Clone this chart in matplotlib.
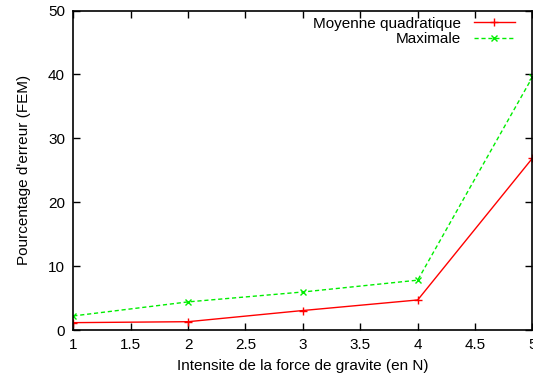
import matplotlib
matplotlib.use("Agg")
import matplotlib.pyplot as plt

plt.rcParams['font.family'] = ['Liberation Sans', 'DejaVu Sans']

# donnees
force = [1, 2, 3, 4, 5]
moyenne_quadratique = [1.15, 1.3, 3.05, 4.7, 26.9]
maximale = [2.2, 4.4, 5.95, 7.8, 39.6]

fig = plt.figure(figsize=(5.33, 3.80), dpi=100)
ax = fig.add_axes([73.3/533, 50/380, (532.5-73.3)/533, (330-10.5)/380])

ax.plot(force, moyenne_quadratique, '-', color='#ff0000', lw=1.0,
        marker='+', ms=6, mew=1.0, label='Moyenne quadratique')
ax.plot(force, maximale, '--', color='#00ee00', lw=1.0, dashes=(3, 2),
        marker='x', ms=5, mew=1.0, label='Maximale')

ax.set_xlim(1, 5)
ax.set_ylim(0, 50)
ax.set_xticks([1, 1.5, 2, 2.5, 3, 3.5, 4, 4.5, 5])
ax.set_xticklabels(['1', '1.5', '2', '2.5', '3', '3.5', '4', '4.5', '5'])
ax.set_yticks([0, 10, 20, 30, 40, 50])
ax.tick_params(direction='in', top=True, right=True, length=5, width=1,
               labelsize=11, pad=6)
for s in ax.spines.values():
    s.set_linewidth(1.2)

ax.set_xlabel('Intensite de la force de gravite (en N)', fontsize=11, labelpad=5)
ax.set_ylabel("Pourcentage d'erreur (FEM)", fontsize=11, labelpad=12)

ax.legend(loc='upper right', frameon=False, markerfirst=False, fontsize=11,
          handlelength=2.7, handletextpad=0.8, labelspacing=0.1,
          borderaxespad=0.0, bbox_to_anchor=(0.975, 1.0))
for t in ax.get_legend().get_texts():
    t.set_ha('right')

fig.savefig('out.png', dpi=100)
